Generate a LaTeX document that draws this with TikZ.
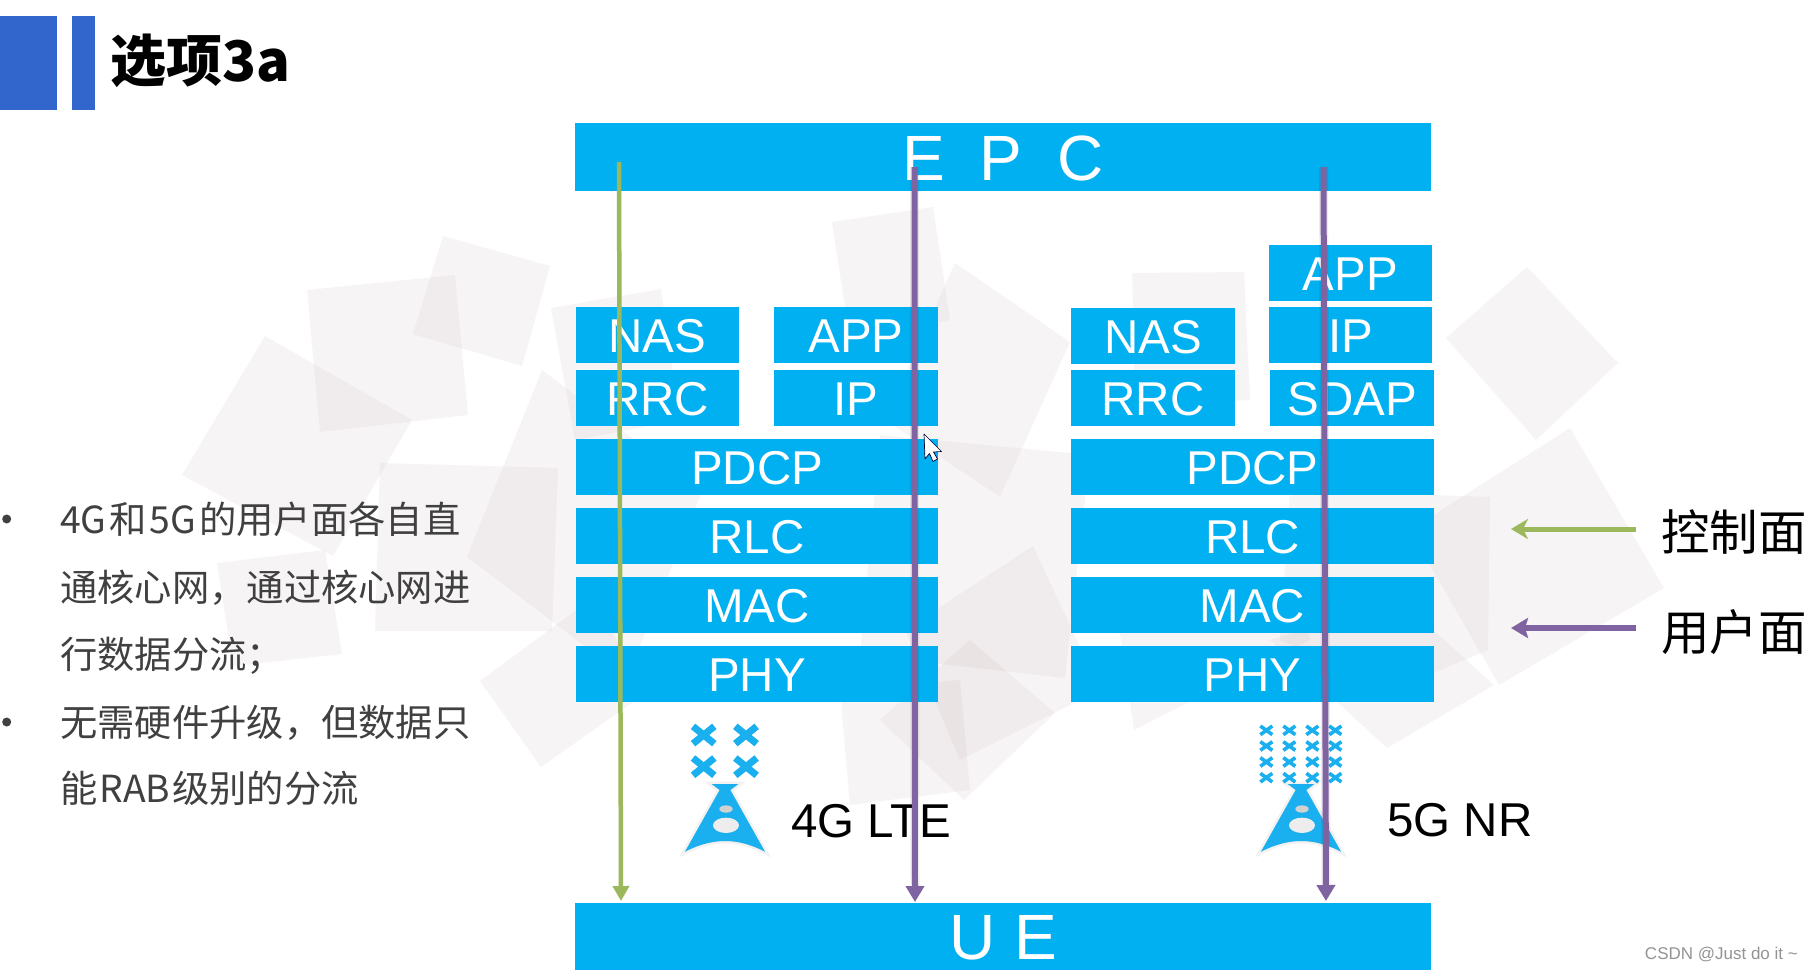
\documentclass[tikz,border=0pt]{standalone}
\usepackage{fontspec}
\setmainfont{Liberation Sans}
\newfontfamily\cjk{Noto Sans CJK SC}
\usetikzlibrary{arrows.meta}
\definecolor{skyb}{HTML}{00B0F0}
\definecolor{barb}{HTML}{3366CC}
\definecolor{purp}{HTML}{8064A2}
\definecolor{gree}{HTML}{9BB85C}
\definecolor{bodyg}{HTML}{404040}
\definecolor{tile}{RGB}{200,175,180}
\definecolor{ant}{HTML}{1AAFEE}
\tikzset{
  tilep/.style={fill=tile,opacity=.13,draw=none},
  bar/.style={fill=barb,draw=none},
  layerbox/.style={fill=skyb,text=white,inner sep=0pt,outer sep=0pt,align=center,
    font=\fontsize{47.5}{50}\selectfont,text height=34pt,text depth=0pt},
  bigbox/.style={layerbox,font=\fontsize{64}{66}\selectfont,text height=46pt},
  bodyt/.style={anchor=base west,inner sep=0pt,text=bodyg,font=\cjk\fontsize{37.3}{40}\selectfont},
  legendt/.style={anchor=base west,inner sep=0pt,text=black,font=\cjk\fontsize{48.5}{50}\selectfont},
  radiot/.style={anchor=base west,inner sep=0pt,text=black,font=\fontsize{47.5}{50}\selectfont},
  titlet/.style={anchor=base west,inner sep=0pt,text=black,font=\cjk\bfseries\fontsize{56}{58}\selectfont},
  flowp/.style={draw=purp,line width=6pt,-{Triangle[length=16pt,width=18pt]}},
  flowg/.style={draw=gree,line width=4.5pt,-{Triangle[length=15pt,width=16pt]}},
  legp/.style={draw=purp,line width=6.5pt,-{Stealth[length=17pt,width=20pt,inset=3pt]}},
  legg/.style={draw=gree,line width=5pt,-{Stealth[length=17pt,width=20pt,inset=5pt]}},
  flowsh/.style={draw=black,opacity=.07,line width=9pt},
  bulletd/.style={circle,fill=bodyg,minimum size=9pt,inner sep=0pt},
  crossl/.style={draw=ant,line cap=butt},
  towerf/.style={fill=ant,draw=none},
  towers/.style={fill=black,opacity=.09,draw=black,draw opacity=.05,line width=5pt},
  holea/.style={fill=black!18,draw=none},
  holeb/.style={fill=black!7,draw=none},
}
\newcommand{\lay}[6]{\node[layerbox,minimum width={(#4-#2)*1pt},minimum height={(#5-#3)*1pt}] (#1) at ({(#2+#4)/2},{(#3+#5)/2}) {#6};}
\newcommand{\tile}[1]{\fill[tilep] #1 -- cycle;}
\newcommand{\towerpath}{(185,312) -- (265,312) -- (241,330) -- (345,515) .. controls (300,492) and (262,483) .. (225,483) .. controls (190,483) and (150,492) .. (105,515) -- (209,330) -- cycle}
\begin{document}
\begin{tikzpicture}[x=1pt,y=-1pt]
\useasboundingbox (0,0) rectangle (1812,970);
\fill[white] (0,0) rectangle (1812,970);
% background tiles
\tile{(443,236) -- (550,266) -- (522,366) -- (413,334)}
\tile{(307,290) -- (455,275) -- (468,415) -- (320,432)}
\tile{(265,336) -- (412,420) -- (333,556) -- (182,475)}
\tile{(217,563) -- (325,550) -- (342,654) -- (233,666)}
\tile{(542,370) -- (702,491) -- (627,678) -- (467,557)}
\tile{(380,463) -- (558,468) -- (552,631) -- (375,631)}
\tile{(480,681) -- (590,600) -- (650,690) -- (541,767)}
\tile{(551,308) -- (661,289) -- (680,420) -- (575,440)}
\tile{(832,222) -- (933,207) -- (950,320) -- (850,340)}
\tile{(955,263) -- (1070,342) -- (1000,497) -- (885,420)}
\tile{(880,435) -- (1090,455) -- (1065,678) -- (860,655)}
\tile{(905,630) -- (1033,546) -- (1100,690) -- (960,760)}
\tile{(840,690) -- (960,680) -- (970,790) -- (850,805)}
\tile{(1055,713) -- (964,800) -- (880,720) -- (970,640)}
\tile{(1132,273) -- (1244,272) -- (1250,400) -- (1135,405)}
\tile{(1290,490) -- (1490,497) -- (1488,650) -- (1393,690) -- (1280,640)}
\tile{(1570,428) -- (1664,588) -- (1499,685) -- (1410,530)}
\tile{(1527,267) -- (1618,363) -- (1536,440) -- (1446,338)}
\tile{(1134,730) -- (1115,600) -- (1300,590) -- (1310,640)}
\tile{(1270,640) -- (1400,600) -- (1494,685) -- (1387,748)}
% title
\fill[bar] (0,16) rectangle (57,110);
\fill[bar] (72,16) rectangle (95,110);
\node[titlet] (title) at (110,81.5) {选项3a};
% EPC and UE
\node[bigbox,minimum width=856pt,minimum height=68.5pt] (epc) at (1003,157) {E\hspace{35pt}P\hspace{35pt}C};
\node[bigbox,minimum width=856pt,minimum height=67.5pt] (ue) at (1003,936.5) {U\hspace{18.8pt}E};
% left stack
\lay{nasl}{576}{307}{739}{363}{NAS}
\lay{rrcl}{576}{370}{739}{426}{RRC}
\lay{appl}{774}{307}{938}{363}{APP}
\lay{ipl}{774}{370}{938}{426}{IP}
\lay{pdcpl}{576}{439}{938}{495}{PDCP}
\lay{rlcl}{576}{508}{938}{564}{RLC}
\lay{macl}{576}{577}{938}{633}{MAC}
\lay{phyl}{576}{646}{938}{702}{PHY}
% right stack
\lay{appr}{1269}{245}{1432}{301}{APP}
\lay{ipr}{1269}{307}{1432}{363}{IP}
\lay{sdapr}{1270}{370}{1434}{426}{SDAP}
\lay{nasr}{1071}{308}{1235}{364}{NAS}
\lay{rrcr}{1071}{370}{1235}{426}{RRC}
\lay{pdcpr}{1071}{439}{1434}{495}{PDCP}
\lay{rlcr}{1071}{508}{1434}{564}{RLC}
\lay{macr}{1071}{577}{1434}{633}{MAC}
\lay{phyr}{1071}{646}{1434}{702}{PHY}
% 4G antenna
\begin{scope}[shift={(650,680)},x=.3333pt,y=-.3333pt]
  \foreach \cx/\cy in {161/165,288/165,161/260,288/260}{
    \draw[crossl,line width=7pt] (\cx-32,\cy-26) -- (\cx+32,\cy+26);
    \draw[crossl,line width=7pt] (\cx-32,\cy+26) -- (\cx+32,\cy-26);
  }
  \path[towers] \towerpath;
  \path[towerf] \towerpath;
  \fill[holea] (228,387) ellipse [x radius=20,y radius=11];
  \fill[holeb] (228,436) ellipse [x radius=39,y radius=23];
\end{scope}
% 5G antenna
\begin{scope}[shift={(1220,680)},x=.3333pt,y=-.3333pt]
  \foreach \cx in {139,208,277,346}{
    \foreach \cy in {151,198,246,293}{
      \draw[crossl,line width=3.6pt] (\cx-18,\cy-13) -- (\cx+18,\cy+13);
      \draw[crossl,line width=3.6pt] (\cx-18,\cy+13) -- (\cx+18,\cy-13);
    }
  }
  \begin{scope}[shift={(18,0)}]
    \path[towers] \towerpath;
    \path[towerf] \towerpath;
    \fill[holea] (228,387) ellipse [x radius=20,y radius=11];
    \fill[holeb] (228,436) ellipse [x radius=39,y radius=23];
  \end{scope}
\end{scope}
\node[radiot] (lte) at (791,837) {4G LTE};
\node[radiot] (nr) at (1387,836) {5G NR};
% flows
\coordinate (g0) at (619,162);
\coordinate (g1) at (621,901);
\coordinate (p0) at (914.5,167);
\coordinate (p1) at (915,902);
\coordinate (q0) at (1323.5,167);
\coordinate (q1) at (1326,901);
\draw[flowsh] (p0) -- ([yshift=9pt]p1);
\draw[flowsh] (q0) -- ([yshift=9pt]q1);
\draw[flowg] (g0) -- (g1);
\draw[flowp] (p0) -- (p1);
\draw[flowp] (q0) -- (q1);
% legend
\node[legendt] (legc) at (1661,550) {控制面};
\node[legendt] (legu) at (1661,650) {用户面};
\coordinate (lg0) at (1636,529);
\coordinate (lg1) at (1511,529);
\coordinate (lp0) at (1636,628);
\coordinate (lp1) at (1511,628);
\draw[legg] (lg0) -- (lg1);
\draw[legp] (lp0) -- (lp1);
% bullets
\node[bulletd] (b1) at (6.7,519) {};
\node[bulletd] (b2) at (6.7,722) {};
\node[bodyt] (t1) at (60,533) {4G\hspace{3pt}和\hspace{3pt}5G\hspace{3pt}的用户面各自直};
\node[bodyt] (t2) at (60,601) {通核心网，通过核心网进};
\node[bodyt] (t3) at (60,668) {行数据分流；};
\node[bodyt] (t4) at (60,736) {无需硬件升级，但数据只};
\node[bodyt] (t5) at (60,802) {能\hspace{2pt}RAB\hspace{2pt}级别的分流};
% cursor
\draw[fill=white,draw=black!80!blue,line width=.7pt,line join=round]
  (924,434) -- (925,459) -- (929.5,453.5) -- (933,461.5) -- (937.5,459) -- (933.5,452) -- (941.5,451.5) -- cycle;
% watermark
\node[anchor=base east,inner sep=0pt,text=black!42,font=\fontsize{17}{19}\selectfont] (wm) at (1798,959) {CSDN @Just do it \textasciitilde};
\end{tikzpicture}
\end{document}
